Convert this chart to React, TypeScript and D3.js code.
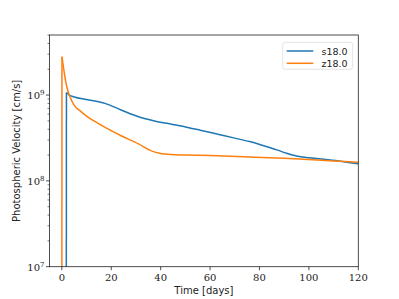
import React, { useEffect, useRef } from 'react'
import * as d3 from 'd3'

// s18.0 model
const sDays = [1.8, 1.85, 3, 5, 10, 17.5, 24, 31, 37.5, 44, 51, 56, 64, 70, 76, 82, 87, 91, 95, 100, 105, 112, 120]
const sVel = [1e6, 1.07e9, 1.0e9, 9.5e8, 8.9e8, 8.0e8, 6.7e8, 5.6e8, 5.0e8, 4.6e8, 4.2e8, 3.9e8, 3.45e8, 3.15e8, 2.87e8, 2.55e8, 2.3e8, 2.1e8, 1.95e8, 1.86e8, 1.8e8, 1.71e8, 1.58e8]

// z18.0 model
const zDays = [0, 0.05, 1, 2, 3, 5, 7.5, 10.7, 14, 17.5, 24, 31, 36, 40, 44, 50, 60, 76, 90, 100, 110, 120]
const zVel = [1e6, 2.8e9, 1.8e9, 1.25e9, 1.0e9, 7.6e8, 6.5e8, 5.5e8, 4.8e8, 4.2e8, 3.36e8, 2.7e8, 2.25e8, 2.08e8, 2.03e8, 2.0e8, 1.97e8, 1.9e8, 1.83e8, 1.77e8, 1.71e8, 1.65e8]

const xTicks = [0, 20, 40, 60, 80, 100, 120]
const yDecades = [7, 8, 9]

const names = ['s18.0', 'z18.0']
const colors = ['#1f77b4', '#ff7f0e']

function App () {
  const ref = useRef<SVGSVGElement>(null)

  useEffect(() => {
    const svg = d3.select(ref.current)
    svg.selectAll('*').remove()
    const left = 49.5
    const right = 358.3
    const top = 35
    const bottom = 266.7

    const x = d3.scaleLinear().domain([-5, 120]).range([left, right])
    const y = d3.scaleLog().domain([1e7, Math.pow(10, 9.7)]).range([bottom, top])

    svg.append('clipPath').attr('id', 'clip')
      .append('rect').attr('x', left).attr('y', top).attr('width', right - left).attr('height', bottom - top)

    const line = d3.line<[number, number]>()
      .x(d => x(d[0]))
      .y(d => y(d[1]))

    const series = [
      d3.zip(sDays, sVel) as [number, number][],
      d3.zip(zDays, zVel) as [number, number][]
    ]

    const g = svg.append('g').attr('clip-path', 'url(#clip)')
    series.forEach((s, i) => {
      // first segment is the vertical rise from below the axis
      line.curve(d3.curveLinear)
      g.append('path').attr('d', line(s.slice(0, 2)))
        .attr('fill', 'none').attr('stroke', colors[i]).attr('stroke-width', 1.5)
      line.curve(d3.curveMonotoneX)
      g.append('path').attr('d', line(s.slice(1)))
        .attr('fill', 'none').attr('stroke', colors[i]).attr('stroke-width', 1.5)
        .attr('stroke-linejoin', 'round')
    })

    // frame
    svg.append('rect').attr('x', left).attr('y', top).attr('width', right - left).attr('height', bottom - top)
      .attr('fill', 'none').attr('stroke', '#222').attr('stroke-width', 0.8)

    const serif = 'DejaVu Serif, Liberation Serif, serif'
    const sans = 'DejaVu Sans, sans-serif'

    // x ticks
    xTicks.forEach(t => {
      svg.append('line').attr('x1', x(t)).attr('x2', x(t)).attr('y1', bottom).attr('y2', bottom + 3.5)
        .attr('stroke', '#222').attr('stroke-width', 0.8)
      svg.append('text').attr('x', x(t)).attr('y', bottom + 14)
        .attr('text-anchor', 'middle').attr('font-family', serif).attr('font-size', 10).attr('fill', '#222')
        .text(t)
    })

    // y ticks
    yDecades.forEach(d => {
      const v = Math.pow(10, d)
      svg.append('line').attr('x1', left - 3.5).attr('x2', left).attr('y1', y(v)).attr('y2', y(v))
        .attr('stroke', '#222').attr('stroke-width', 0.8)
      const t = svg.append('text').attr('x', left - 5).attr('y', y(v) + 4)
        .attr('text-anchor', 'end').attr('font-family', serif).attr('font-size', 10).attr('fill', '#222')
      t.append('tspan').text('10')
      t.append('tspan').attr('dy', -4).attr('font-size', 7).text(d)
      for (let k = 2; k <= 9; k++) {
        const m = k * v
        if (m > y.domain()[1]) continue
        svg.append('line').attr('x1', left - 2).attr('x2', left).attr('y1', y(m)).attr('y2', y(m))
          .attr('stroke', '#222').attr('stroke-width', 0.6)
      }
    })

    svg.append('text').attr('x', (left + right) / 2).attr('y', 294)
      .attr('text-anchor', 'middle').attr('font-family', sans).attr('font-size', 10).attr('fill', '#222')
      .text('Time [days]')
    svg.append('text').attr('transform', 'translate(20,' + (top + bottom) / 2 + ') rotate(-90)')
      .attr('text-anchor', 'middle').attr('font-family', sans).attr('font-size', 10).attr('fill', '#222')
      .text('Photospheric Velocity [cm/s]')

    // legend
    svg.append('rect').attr('x', 282.7).attr('y', 42.3).attr('width', 70).attr('height', 27).attr('rx', 2.5)
      .attr('fill', 'white').attr('stroke', '#ddd').attr('stroke-width', 0.8)
    names.forEach((n, i) => {
      const ly = 51 + i * 12.3
      svg.append('line').attr('x1', 286.7).attr('x2', 313.3).attr('y1', ly).attr('y2', ly)
        .attr('stroke', colors[i]).attr('stroke-width', 1.5)
      svg.append('text').attr('x', 321.5).attr('y', ly + 3.5)
        .attr('font-family', sans).attr('font-size', 9.5).attr('fill', '#222')
        .text(n)
    })
  }, [])

  return (
    <svg ref={ref} width={399} height={299} style={{ position: 'absolute', left: 0, top: 0 }} />
  )
}

export default App
